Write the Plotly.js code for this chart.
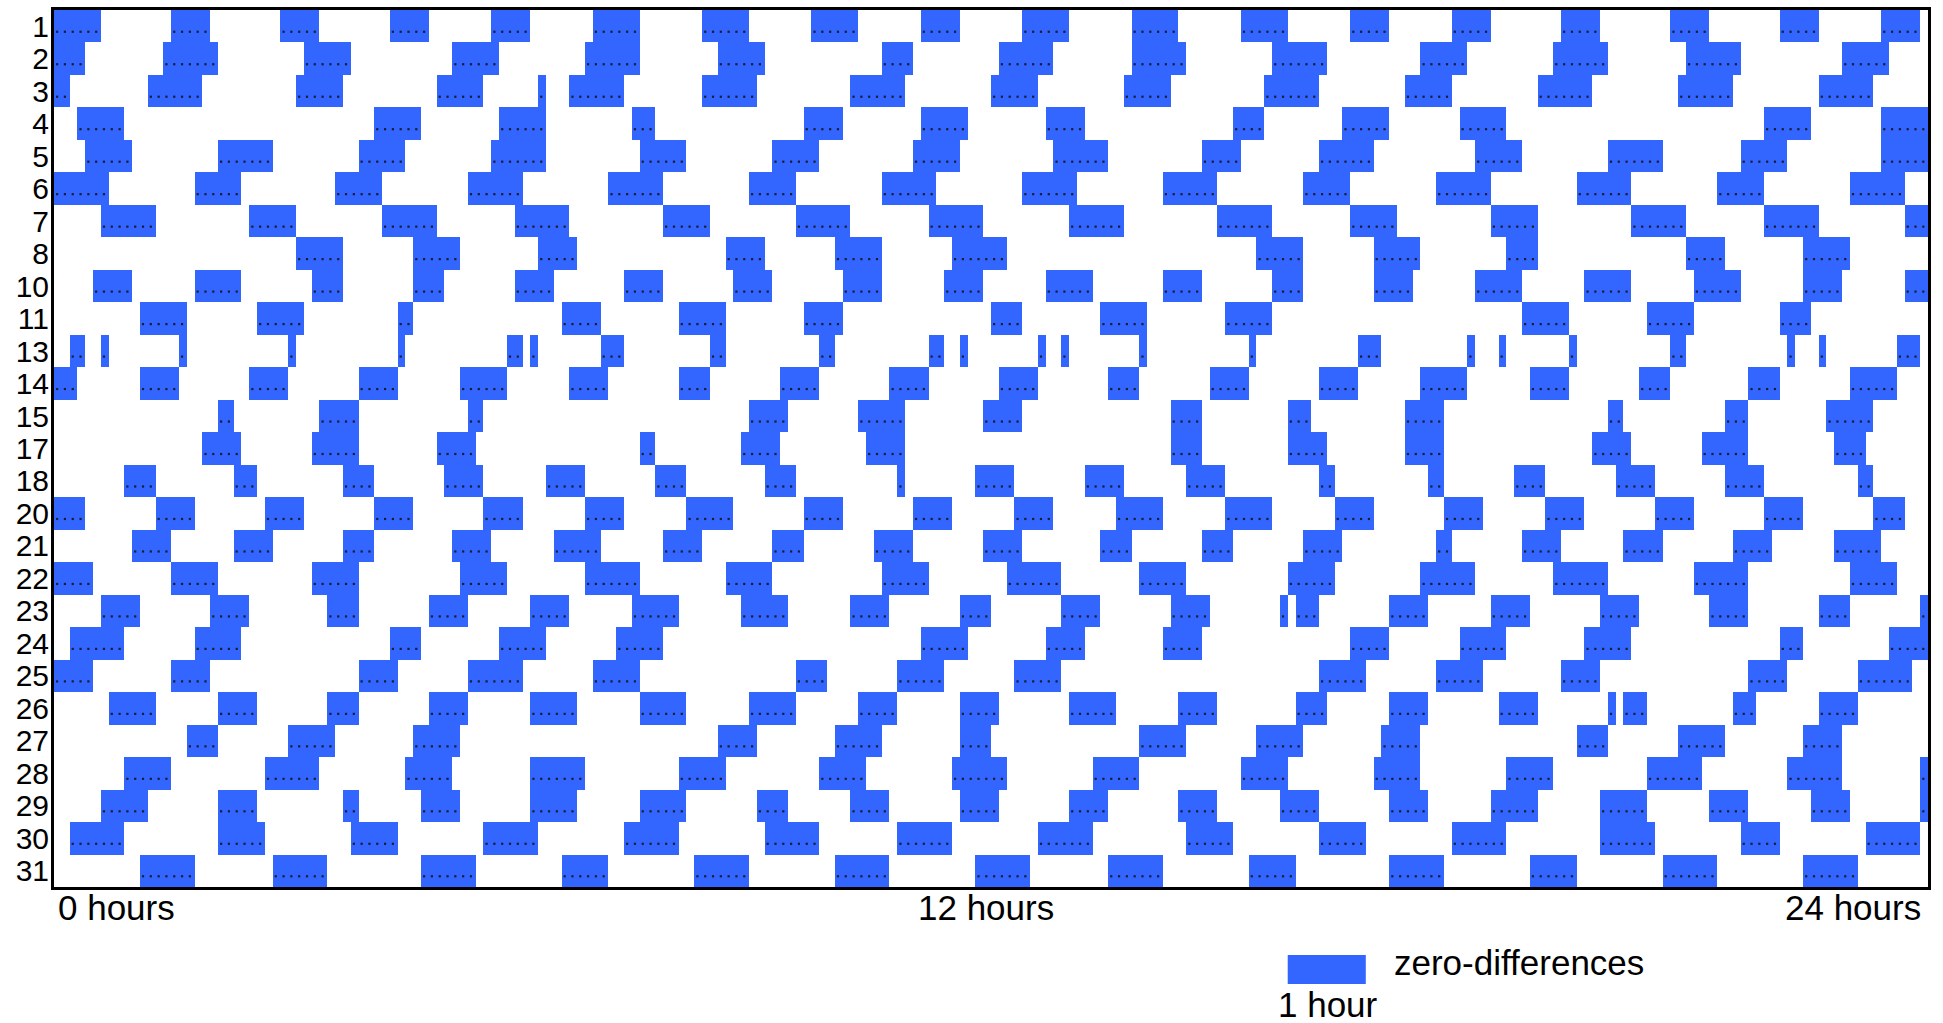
<!DOCTYPE html>
<html>
<head>
<meta charset="utf-8">
<script src="https://cdn.plot.ly/plotly-3.0.1.min.js"></script>
<style>html,body{margin:0;padding:0;background:#fff;}#chart{width:1943px;height:1023px;}</style>
</head>
<body>
<div id="chart"></div>
<script>
// Row labels (days) shown on the y axis, top to bottom
const rowLabels = ["1","2","3","4","5","6","7","8","10","11","13","14","15","17","18","20","21","22","23","24","25","26","27","28","29","30","31"];

// Zero-difference intervals per day: [start hour, end hour]
const day1  = [[0,0.6],[1.5,2.0],[2.9,3.4],[4.3,4.8],[5.6,6.1],[6.9,7.5],[8.3,8.9],[9.7,10.3],[11.1,11.6],[12.4,13.0],[13.8,14.4],[15.2,15.8],[16.6,17.1],[17.9,18.4],[19.3,19.8],[20.7,21.2],[22.1,22.6],[23.4,23.9]];
const day2  = [[0,0.4],[1.4,2.1],[3.2,3.8],[5.1,5.7],[6.8,7.5],[8.5,9.1],[10.6,11.0],[12.1,12.8],[13.8,14.5],[15.6,16.3],[17.5,18.1],[19.2,19.9],[20.9,21.6],[22.9,23.5]];
const day3  = [[0,0.2],[1.2,1.9],[3.1,3.7],[4.9,5.5],[6.2,6.3],[6.6,7.3],[8.3,9.0],[10.2,10.9],[12.0,12.6],[13.7,14.3],[15.5,16.2],[17.3,17.9],[19.0,19.7],[20.8,21.5],[22.6,23.3]];
const day4  = [[0.3,0.9],[4.1,4.7],[5.7,6.3],[7.4,7.7],[9.6,10.1],[11.1,11.7],[12.7,13.2],[15.1,15.5],[16.5,17.1],[18.0,18.6],[21.9,22.5],[23.4,24.0]];
const day5  = [[0.4,1.0],[2.1,2.8],[3.9,4.5],[5.6,6.3],[7.5,8.1],[9.2,9.8],[11.0,11.6],[12.8,13.5],[14.7,15.2],[16.2,16.9],[18.2,18.8],[19.9,20.6],[21.6,22.2],[23.4,24.0]];
const day6  = [[0,0.7],[1.8,2.4],[3.6,4.2],[5.3,6.0],[7.1,7.8],[8.9,9.5],[10.6,11.3],[12.4,13.1],[14.2,14.9],[16.0,16.6],[17.7,18.4],[19.5,20.2],[21.3,21.9],[23.0,23.7]];
const day7  = [[0.6,1.3],[2.5,3.1],[4.2,4.9],[5.9,6.6],[7.8,8.4],[9.5,10.2],[11.2,11.9],[13.0,13.7],[14.9,15.6],[16.6,17.2],[18.4,19.0],[20.2,20.9],[21.9,22.6],[23.7,24.0]];
const day8  = [[3.1,3.7],[4.6,5.2],[6.2,6.7],[8.6,9.1],[10.0,10.6],[11.5,12.2],[15.4,16.0],[16.9,17.5],[18.6,19.0],[20.9,21.4],[22.4,23.0]];
const day10 = [[0.5,1.0],[1.8,2.4],[3.3,3.7],[4.6,5.0],[5.9,6.4],[7.3,7.8],[8.7,9.2],[10.1,10.6],[11.4,11.9],[12.7,13.3],[14.2,14.7],[15.6,16.0],[16.9,17.4],[18.2,18.8],[19.6,20.2],[21.0,21.6],[22.4,22.9],[23.7,24.0]];
const day11 = [[1.1,1.7],[2.6,3.2],[4.4,4.6],[6.5,7.0],[8.0,8.6],[9.6,10.1],[12.0,12.4],[13.4,14.0],[15.0,15.6],[18.8,19.4],[20.4,21.0],[22.1,22.5]];
const day13 = [[0.2,0.4],[0.6,0.7],[1.6,1.7],[3.0,3.1],[4.4,4.5],[5.8,6.0],[6.1,6.2],[7.0,7.3],[8.4,8.6],[9.8,10.0],[11.2,11.4],[11.6,11.7],[12.6,12.7],[12.9,13.0],[13.9,14.0],[15.3,15.4],[16.7,17.0],[18.1,18.2],[18.5,18.6],[19.4,19.5],[20.7,20.9],[22.2,22.3],[22.6,22.7],[23.6,23.9]];
const day14 = [[0,0.3],[1.1,1.6],[2.5,3.0],[3.9,4.4],[5.2,5.8],[6.6,7.1],[8.0,8.4],[9.3,9.8],[10.7,11.2],[12.1,12.6],[13.5,13.9],[14.8,15.3],[16.2,16.7],[17.5,18.1],[18.9,19.4],[20.3,20.7],[21.7,22.1],[23.0,23.6]];
const day15 = [[2.1,2.3],[3.4,3.9],[5.3,5.5],[8.9,9.4],[10.3,10.9],[11.9,12.4],[14.3,14.7],[15.8,16.1],[17.3,17.8],[19.9,20.1],[21.4,21.7],[22.7,23.3]];
const day17 = [[1.9,2.4],[3.3,3.9],[4.9,5.4],[7.5,7.7],[8.8,9.3],[10.4,10.9],[14.3,14.7],[15.8,16.3],[17.3,17.8],[19.7,20.2],[21.1,21.7],[22.8,23.2]];
const day18 = [[0.9,1.3],[2.3,2.6],[3.7,4.1],[5.0,5.5],[6.3,6.8],[7.7,8.1],[9.1,9.5],[10.8,10.9],[11.8,12.3],[13.2,13.7],[14.5,15.0],[16.2,16.4],[17.6,17.8],[18.7,19.1],[20.0,20.5],[21.4,21.9],[23.1,23.3]];
const day20 = [[0,0.4],[1.3,1.8],[2.7,3.2],[4.1,4.6],[5.5,6.0],[6.8,7.3],[8.1,8.7],[9.6,10.1],[11.0,11.5],[12.3,12.8],[13.6,14.2],[15.0,15.6],[16.4,16.9],[17.8,18.3],[19.1,19.6],[20.5,21.0],[21.9,22.4],[23.3,23.7]];
const day21 = [[1.0,1.5],[2.3,2.8],[3.7,4.1],[5.1,5.6],[6.4,7.0],[7.8,8.3],[9.2,9.6],[10.5,11.0],[11.9,12.4],[13.4,13.8],[14.7,15.1],[16.0,16.5],[17.7,17.9],[18.8,19.3],[20.1,20.6],[21.5,22.0],[22.8,23.4]];
const day22 = [[0,0.5],[1.5,2.1],[3.3,3.9],[5.2,5.8],[6.8,7.5],[8.6,9.2],[10.6,11.2],[12.2,12.9],[13.9,14.5],[15.8,16.4],[17.5,18.2],[19.2,19.9],[21.0,21.7],[23.0,23.6]];
const day23 = [[0.6,1.1],[2.0,2.5],[3.5,3.9],[4.8,5.3],[6.1,6.6],[7.4,8.0],[8.8,9.4],[10.2,10.7],[11.6,12.0],[12.9,13.4],[14.3,14.8],[15.7,15.8],[15.9,16.2],[17.1,17.6],[18.4,18.9],[19.8,20.3],[21.2,21.7],[22.6,23.0],[23.9,24.0]];
const day24 = [[0.2,0.9],[1.8,2.4],[4.3,4.7],[5.7,6.3],[7.2,7.8],[11.1,11.7],[12.7,13.2],[14.2,14.7],[16.6,17.1],[18.0,18.6],[19.6,20.2],[22.1,22.4],[23.5,24.0]];
const day25 = [[0,0.5],[1.5,2.0],[3.9,4.4],[5.3,6.0],[6.9,7.5],[9.5,9.9],[10.8,11.4],[12.3,12.9],[16.2,16.8],[17.7,18.3],[19.3,19.8],[21.7,22.2],[23.1,23.8]];
const day26 = [[0.7,1.3],[2.1,2.6],[3.5,3.9],[4.8,5.3],[6.1,6.7],[7.5,8.1],[8.9,9.5],[10.3,10.8],[11.6,12.1],[13.0,13.6],[14.4,14.9],[15.9,16.3],[17.1,17.6],[18.5,19.0],[19.9,20.0],[20.1,20.4],[21.5,21.8],[22.6,23.1]];
const day27 = [[1.7,2.1],[3.0,3.6],[4.6,5.2],[8.5,9.0],[10.0,10.6],[11.6,12.0],[13.9,14.5],[15.4,16.0],[17.0,17.5],[19.5,19.9],[20.8,21.4],[22.4,22.9]];
const day28 = [[0.9,1.5],[2.7,3.4],[4.5,5.1],[6.1,6.8],[8.0,8.6],[9.8,10.4],[11.5,12.2],[13.3,13.9],[15.2,15.8],[16.9,17.5],[18.6,19.2],[20.4,21.1],[22.2,22.9],[23.9,24.0]];
const day29 = [[0.6,1.2],[2.1,2.6],[3.7,3.9],[4.7,5.2],[6.1,6.7],[7.5,8.1],[9.0,9.4],[10.2,10.7],[11.6,12.1],[13.0,13.5],[14.4,14.9],[15.7,16.2],[17.1,17.6],[18.4,19.0],[19.8,20.4],[21.2,21.7],[22.5,23.0],[23.9,24.0]];
const day30 = [[0.2,0.9],[2.1,2.7],[3.8,4.4],[5.5,6.2],[7.3,8.0],[9.1,9.8],[10.8,11.5],[12.6,13.3],[14.5,15.1],[16.2,16.8],[17.9,18.6],[19.8,20.5],[21.6,22.1],[23.2,23.9]];
const day31 = [[1.1,1.8],[2.8,3.5],[4.7,5.4],[6.5,7.1],[8.2,8.9],[10.0,10.7],[11.8,12.5],[13.5,14.2],[15.3,15.9],[17.1,17.8],[18.9,19.5],[20.6,21.3],[22.4,23.1]];

// Sampling step (hours) of the series: one dot per sample inside a block
const sampleStep = 0.1;

const days = [day1,day2,day3,day4,day5,day6,day7,day8,day10,day11,day13,day14,day15,day17,day18,day20,day21,day22,day23,day24,day25,day26,day27,day28,day29,day30,day31];

const barY = [], barBase = [], barLen = [];
const dotX = [], dotY = [];
days.forEach((iv, r) => {
  iv.forEach(([s, e]) => {
    barY.push(r); barBase.push(s); barLen.push(e - s);
    const n = Math.round((e - s) / sampleStep);
    for (let k = 0; k < n; k++) { dotX.push(s + 0.04 + k * sampleStep); dotY.push(r + 0.17); }
  });
});

const FONT = 'Liberation Sans, Arial, Helvetica, sans-serif';
const BLUE = '#3366ff';

const bars = {
  type: 'bar', orientation: 'h', y: barY, x: barLen, base: barBase, width: 1,
  marker: {color: BLUE, line: {width: 0}}, hoverinfo: 'skip', showlegend: false
};
const dots = {
  type: 'scatter', mode: 'markers', x: dotX, y: dotY,
  marker: {color: '#1a1a33', size: 2.2, symbol: 'square'}, hoverinfo: 'skip', showlegend: false
};

// pixel helpers for layout placement (plot area 54..1928 x, 10..887 y)
const W = 1943, H = 1023, mL = 54, mR = 15, mT = 10, mB = 136;
const plotH = H - mT - mB;
const py = Y => (H - mB - Y) / plotH;

const layout = {
  width: W, height: H,
  margin: {l: mL, r: mR, t: mT, b: mB, pad: 0},
  paper_bgcolor: '#fff', plot_bgcolor: '#fff',
  bargap: 0,
  font: {family: FONT, color: '#000'},
  xaxis: {range: [0, 24], showticklabels: false, ticks: '', showgrid: false, zeroline: false,
          showline: true, mirror: true, linecolor: '#000', linewidth: 3, fixedrange: true},
  yaxis: {range: [rowLabels.length - 0.5, -0.5], tickmode: 'array',
          tickvals: rowLabels.map((_, i) => i), ticktext: rowLabels,
          tickfont: {family: FONT, size: 30, color: '#000'}, ticks: '', ticklabelstandoff: -4,
          showgrid: false, zeroline: false, showline: true, mirror: true, linecolor: '#000', linewidth: 3, fixedrange: true},
  shapes: [
    {type: 'rect', xref: 'x', yref: 'paper', x0: 15.8, x1: 16.8, y0: py(984), y1: py(955),
     fillcolor: BLUE, line: {width: 0}}
  ],
  annotations: [
    {text: '0 hours', xref: 'x', yref: 'paper', x: 0.03, y: py(907), xanchor: 'left', yanchor: 'middle', showarrow: false, font: {size: 35}},
    {text: '12 hours', xref: 'x', yref: 'paper', x: 11.93, y: py(907), xanchor: 'center', yanchor: 'middle', showarrow: false, font: {size: 35}},
    {text: '24 hours', xref: 'x', yref: 'paper', x: 23.94, y: py(907), xanchor: 'right', yanchor: 'middle', showarrow: false, font: {size: 35}},
    {text: 'zero-differences', xref: 'x', yref: 'paper', x: 17.13, y: py(963), xanchor: 'left', yanchor: 'middle', showarrow: false, font: {size: 35}},
    {text: '1 hour', xref: 'x', yref: 'paper', x: 16.32, y: py(1004), xanchor: 'center', yanchor: 'middle', showarrow: false, font: {size: 35}}
  ]
};

Plotly.newPlot('chart', [bars, dots], layout, {displayModeBar: false, staticPlot: true});
</script>
</body>
</html>
